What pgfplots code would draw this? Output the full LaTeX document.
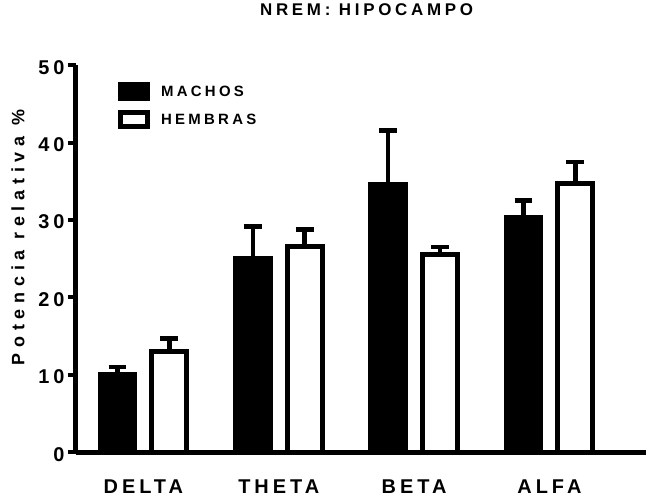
\documentclass[border=0pt]{standalone}
\usepackage{pgfplots}
\pgfplotsset{compat=1.18}
\usepackage{fontspec}
\setmainfont{Liberation Sans}
\begin{document}
\begin{tikzpicture}
\begin{axis}[
  at={(0,0)}, anchor=south west,
  scale only axis, width=572pt, height=388.6pt,
  xmin=-0.5, xmax=3.71, ymin=0, ymax=50,
  axis x line=bottom, axis y line=left,
  axis line style={line width=5pt, -},
  xtick={0,1,2,3}, xticklabels={DELTA,THETA,BETA,ALFA},
  x tick style={draw=none},
  ytick={0,10,20,30,40,50},
  tick align=outside, major tick length=8pt,
  y tick style={line width=4pt, black},
  /pgf/number format/assume math mode=true,
  ticklabel style={font=\fontsize{20}{24}\selectfont\bfseries\addfontfeature{LetterSpace=20}},
  xticklabel style={anchor=base, yshift=-33.7pt},
  yticklabel style={anchor=east, inner sep=0pt, xshift=-3pt, yshift=-2pt},
  title={NREM: HIPOCAMPO},
  title style={at={(axis description cs:0.5105,1.129)}, anchor=center, font=\fontsize{17}{20}\selectfont\bfseries\addfontfeature{LetterSpace=22}},
  ylabel={Potencia relativa \%},
  ylabel style={at={(axis description cs:-0.1014,0.555)}, anchor=center, font=\fontsize{18}{22}\selectfont\bfseries\addfontfeature{LetterSpace=32}},
  ybar, bar width=35pt,
  legend image code/.code={\draw[#1, line width=5pt] (2.5pt,-7pt) rectangle (29.5pt,7pt);},
  legend style={at={(axis description cs:0.0743,0.9565)}, anchor=north west, draw=none, fill=none, inner sep=0pt, row sep=9.3pt, cells={anchor=west}, font=\fontsize{15}{18}\selectfont\bfseries\addfontfeature{LetterSpace=22}},
  legend cell align=left,
  /tikz/every odd column/.append style={column sep=9pt},
]
\addplot[fill=black, draw=black, line width=5pt, bar shift=-26pt,
  error bars/.cd, y dir=plus, y explicit,
  error bar style={line width=4.5pt, black},
  error mark options={rotate=90, line width=4.5pt, mark size=9pt, black}]
  coordinates {(0,10.1) +- (0,0.9) (1,25.0) +- (0,4.2) (2,34.6) +- (0,7.0) (3,30.3) +- (0,2.2)};
\addlegendentry{MACHOS}
\addplot[fill=white, draw=black, line width=5pt, bar shift=26pt,
  error bars/.cd, y dir=plus, y explicit,
  error bar style={line width=4.5pt, black},
  error mark options={rotate=90, line width=4.5pt, mark size=9pt, black}]
  coordinates {(0,13.05) +- (0,1.65) (1,26.6) +- (0,2.2) (2,25.5) +- (0,1.05) (3,34.7) +- (0,2.8)};
\addlegendentry{HEMBRAS}
\end{axis}
\path[use as bounding box] (-76pt,-45.7pt) rectangle (572pt,453.3pt);
\end{tikzpicture}
\end{document}
